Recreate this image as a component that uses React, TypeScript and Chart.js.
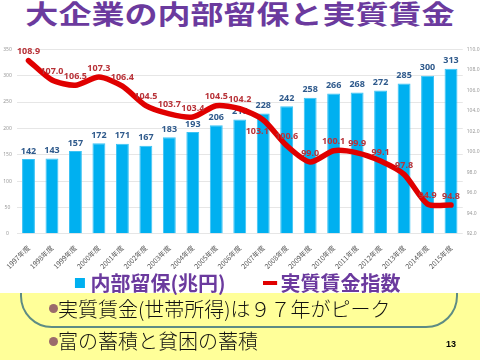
import React, { useEffect, useRef } from "react";
import { Chart, registerables } from "chart.js";

Chart.register(...registerables);

const categories = [
  "1997年度", "1998年度", "1999年度", "2000年度", "2001年度", "2002年度", "2003年度",
  "2004年度", "2005年度", "2006年度", "2007年度", "2008年度", "2009年度", "2010年度",
  "2011年度", "2012年度", "2013年度", "2014年度", "2015年度",
];
const retainedEarnings = [142, 143, 157, 172, 171, 167, 183, 193, 206, 217, 228, 242, 258, 266, 268, 272, 285, 300, 313];
const realWageIndex = [108.9, 107.0, 106.5, 107.3, 106.4, 104.5, 103.7, 103.4, 104.5, 104.2, 103.1, 100.6, 99.0, 100.1, 99.9, 99.1, 97.8, 94.9, 94.8];
const wageLabelPlacement = ["above", "above", "above", "above", "above", "above", "above", "above", "above", "above", "below", "above", "above", "above", "above", "above", "above", "above", "above"];
const leftAxis = { min: 0, max: 350, step: 50 };
const rightAxis = { min: 92, max: 110, step: 2 };
const legendTexts = ["内部留保(兆円)", "実質賃金指数"];
const titleText = "大企業の内部留保と実質賃金";
const bullets = ["実質賃金(世帯所得)は９７年がピーク", "富の蓄積と貧困の蓄積"];
const pageNumber = "13";

const BLUE = "#00b0f0";
const RED = "#e00000";
const PURPLE = "#6b3a9e";

const valueLabels = {
  id: "valueLabels",
  afterDatasetDraw(chart: any, args: any) {
    const ctx = chart.ctx;
    const meta = chart.getDatasetMeta(args.index);
    ctx.save();
    ctx.textAlign = "center";
    ctx.textBaseline = "middle";
    if (args.index === 0) {
      ctx.font = "bold 9px 'Noto Sans'";
      ctx.fillStyle = "#2f5a8c";
      meta.data.forEach((el: any, i: number) => {
        ctx.fillText(String(retainedEarnings[i]), el.x, el.y - 8);
      });
    } else {
      ctx.font = "bold 9px 'Noto Sans'";
      ctx.fillStyle = "#b83238";
      meta.data.forEach((el: any, i: number) => {
        const below = wageLabelPlacement[i] === "below";
        ctx.fillText(realWageIndex[i].toFixed(1), el.x + (below ? -6 : 0), el.y + (below ? 11 : -9));
      });
    }
    ctx.restore();
  },
};

export default function App() {
  const ref = useRef<HTMLCanvasElement | null>(null);

  useEffect(() => {
    if (!ref.current) return;
    const chart = new Chart(ref.current, {
      type: "bar",
      data: {
        labels: categories,
        datasets: [
          {
            type: "bar",
            label: legendTexts[0],
            data: retainedEarnings,
            backgroundColor: BLUE,
            borderColor: "#3cc3f4",
            borderWidth: 1,
            barPercentage: 0.55,
            categoryPercentage: 1,
            yAxisID: "y",
            order: 1,
          },
          {
            type: "line",
            label: legendTexts[1],
            data: realWageIndex,
            borderColor: RED,
            borderWidth: 5.5,
            tension: 0.25,
            pointRadius: 0,
            borderJoinStyle: "round",
            borderCapStyle: "round",
            fill: false,
            yAxisID: "y1",
            order: 0,
          },
        ],
      } as any,
      options: {
        animation: false,
        responsive: false,
        devicePixelRatio: 1,
        layout: { padding: { top: 9.3, left: 0, right: 0, bottom: 0 } },
        plugins: {
          tooltip: { enabled: false },
          legend: {
            position: "bottom",
            labels: {
              usePointStyle: true,
              boxWidth: 1,
              boxHeight: 10,
              padding: 4,
              color: PURPLE,
              font: { size: 20, weight: "bold", family: "'Noto Sans CJK JP'" },
              generateLabels: () => [
                { text: legendTexts[0] + "\u3000\u3000", fillStyle: BLUE, strokeStyle: BLUE, lineWidth: 0, pointStyle: "rect", datasetIndex: 0, hidden: false, fontColor: PURPLE },
                { text: legendTexts[1], fillStyle: RED, strokeStyle: RED, lineWidth: 4, pointStyle: "line", datasetIndex: 1, hidden: false, fontColor: PURPLE },
              ],
            },
          },
        },
        scales: {
          x: {
            offset: true,
            grid: { display: false },
            border: { display: false },
            ticks: {
              autoSkip: false,
              maxRotation: 45,
              minRotation: 45,
              padding: 2,
              color: "#555",
              font: { size: 7, family: "'Noto Sans CJK JP'" },
            },
            afterFit: (s: any) => { s.height = 35.2; },
          },
          y: {
            position: "left",
            min: leftAxis.min,
            max: leftAxis.max,
            grid: { color: "#e6e6e6", lineWidth: 1, drawTicks: false },
            border: { display: false },
            ticks: {
              stepSize: leftAxis.step,
              crossAlign: "center",
              padding: 5,
              color: "#999",
              font: { size: 5, family: "'Noto Sans'" },
            },
            afterFit: (s: any) => { s.width = 16.75; },
          },
          y1: {
            position: "right",
            min: rightAxis.min,
            max: rightAxis.max,
            grid: { display: false, drawTicks: false },
            border: { display: false },
            ticks: {
              stepSize: rightAxis.step,
              padding: 4,
              color: "#999",
              font: { size: 5, family: "'Noto Sans'" },
              callback: (v: any) => Number(v).toFixed(1),
            },
            afterFit: (s: any) => { s.width = 17.25; },
          },
        },
      } as any,
      plugins: [valueLabels],
    });
    return () => chart.destroy();
  }, []);

  return (
    <div style={{ position: "fixed", left: 0, top: 0, width: 480, height: 360, background: "#fff", overflow: "hidden", fontFamily: "'Noto Sans CJK JP', sans-serif" }}>
      <div style={{ position: "absolute", left: 0, top: 293, width: 480, height: 67, background: "#ffff99" }} />
      <div style={{ position: "absolute", left: 20, top: 240, width: 438, height: 88, border: "2px solid #5e8c84", borderRadius: 32, boxSizing: "border-box" }} />
      <div style={{ position: "absolute", left: 0, top: 0, width: 480, height: 293, background: "#fff" }} />
      <div style={{ position: "absolute", left: 0, top: 0, width: 480, textAlign: "center", fontSize: 26, lineHeight: "26px", fontWeight: 700, color: PURPLE, whiteSpace: "nowrap" }}>
        <span style={{ display: "inline-block", transform: "scaleX(1.27)" }}>{titleText}</span>
      </div>
      <canvas ref={ref} width={480} height={263} style={{ position: "absolute", left: 0, top: 40, width: 480, height: 263 }} />
      {bullets.map((b, i) => (
        <React.Fragment key={i}>
          <div style={{ position: "absolute", left: 48.5, top: i === 0 ? 303.5 : 337, width: 9, height: 9, borderRadius: "50%", background: "#9b6b6b" }} />
          <div style={{ position: "absolute", left: 58, top: i === 0 ? 299 : 331, fontSize: 20, lineHeight: "20px", fontWeight: 300, color: "#111", whiteSpace: "nowrap" }}>{b}</div>
        </React.Fragment>
      ))}
      <div style={{ position: "absolute", left: 446, top: 339, fontSize: 9, fontWeight: 700, fontFamily: "'Liberation Sans', sans-serif", color: "#000" }}>{pageNumber}</div>
    </div>
  );
}
